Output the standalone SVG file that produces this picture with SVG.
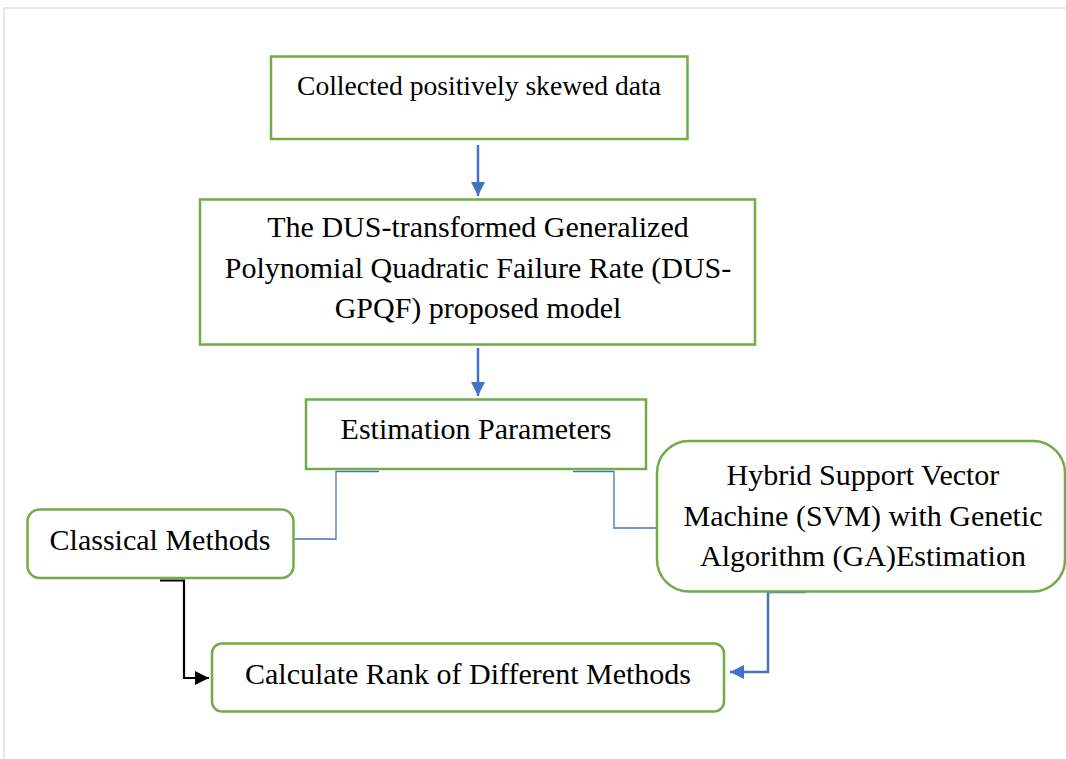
<svg xmlns="http://www.w3.org/2000/svg" width="1066" height="759" viewBox="0 0 1066 759">
<style>
.box{fill:#fff;stroke:#70AD47;stroke-width:2.5}
.t{font-family:"Liberation Serif","Times New Roman",serif;font-size:30px;fill:#000;text-anchor:middle}
.thin{fill:none;stroke:#4472C4;stroke-width:1.3}
.blue{fill:none;stroke:#4472C4;stroke-width:2.5}
.blk{fill:none;stroke:#000;stroke-width:2.2}
</style>
<defs>
<marker id="ab" markerUnits="userSpaceOnUse" markerWidth="16" markerHeight="16" refX="14" refY="7" orient="auto">
<path d="M0,0 L14,7 L0,14 Z" fill="#4472C4"/>
</marker>
<marker id="ak" markerUnits="userSpaceOnUse" markerWidth="16" markerHeight="16" refX="14" refY="7" orient="auto">
<path d="M0,0 L14,7 L0,14 Z" fill="#000"/>
</marker>
</defs>
<rect width="1066" height="759" fill="#fff"/>
<path d="M4,759 V8 H1066" fill="none" stroke="#d4d4d4" stroke-width="1"/>

<g id="connectors">
<path class="blue" d="M478,145 V196" marker-end="url(#ab)"/>
<path class="blue" d="M478,348 V396" marker-end="url(#ab)"/>
<path class="thin" d="M379,471.5 H336 V539 H294"/>
<path class="thin" d="M573,471.5 H614 V528 H656"/>
<path class="blk" d="M160,580.5 H184 V678 H209" marker-end="url(#ak)"/>
<path class="blue" d="M806,592 H768 V672 H730" marker-end="url(#ab)"/>
</g>

<g id="n1">
<rect class="box" x="271" y="56.5" width="416.5" height="82.5"/>
<text class="t" x="479" y="95" style="font-size:27.6px">Collected positively skewed data</text>
</g>
<g id="n2">
<rect class="box" x="200" y="199.5" width="555" height="145"/>
<text class="t" x="478" y="237">The DUS-transformed Generalized</text>
<text class="t" x="478" y="278">Polynomial Quadratic Failure Rate (DUS-</text>
<text class="t" x="478" y="318">GPQF) proposed model</text>
</g>
<g id="n3">
<rect class="box" x="306" y="399.5" width="340" height="69.5"/>
<text class="t" x="476" y="439">Estimation Parameters</text>
</g>
<g id="n4">
<rect class="box" x="27.5" y="509.5" width="266" height="68.5" rx="12"/>
<text class="t" x="160" y="550">Classical Methods</text>
</g>
<g id="n5">
<rect class="box" x="657" y="441" width="408" height="150.5" rx="32"/>
<text class="t" x="863" y="485">Hybrid Support Vector</text>
<text class="t" x="863" y="526">Machine (SVM) with Genetic</text>
<text class="t" x="863" y="566">Algorithm (GA)Estimation</text>
</g>
<g id="n6">
<rect class="box" x="212" y="643.5" width="512" height="68" rx="10"/>
<text class="t" x="468" y="684">Calculate Rank of Different Methods</text>
</g>
</svg>
